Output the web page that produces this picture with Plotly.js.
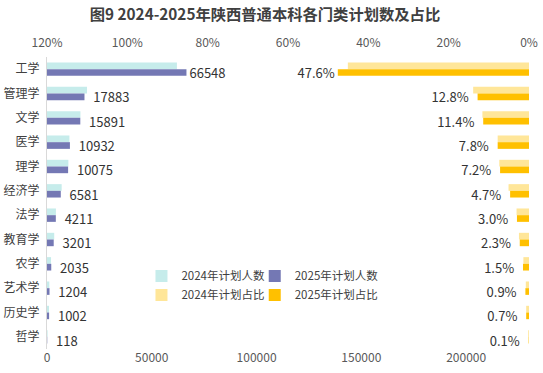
<!DOCTYPE html>
<html><head><meta charset="utf-8">
<script src="https://cdn.plot.ly/plotly-3.0.1.min.js"></script>
<style>body{margin:0;background:#fff}#c{width:543px;height:373px}</style>
</head><body><div id="c"></div>
<script>
const categories = ['工学','管理学','文学','医学','理学','经济学','法学','教育学','农学','艺术学','历史学','哲学'];
const count2024 = [62000,19100,15950,10700,10200,7000,4260,3440,1930,1100,960,275];
const count2025 = [66548,17883,15891,10932,10075,6581,4211,3201,2035,1204,1002,118];
const share2024 = [0.451,0.139,0.116,0.078,0.074,0.051,0.031,0.025,0.014,0.008,0.007,0.002];
const share2025 = [0.476,0.128,0.114,0.078,0.072,0.047,0.030,0.023,0.015,0.009,0.007,0.001];

const F = '"Noto Sans CJK SC", "Noto Sans", sans-serif';
const pad = '\u00a0\u00a0';
const countText = count2025.map((v, i) => (i === 0 ? '' : pad) + String(v));
const shareText = share2025.map((v, i) => (v * 100).toFixed(1) + '%' + (i === 0 ? '' : pad));
const traces = [
  {type:'bar', orientation:'h', name:'2024年计划人数', y:categories, x:count2024,
   marker:{color:'#C6ECEB'}, xaxis:'x', yaxis:'y', legend:'legend'},
  {type:'bar', orientation:'h', name:'2025年计划人数', y:categories, x:count2025,
   marker:{color:'#7478B4'}, xaxis:'x', yaxis:'y', legend:'legend2',
   text:countText, textposition:'outside', cliponaxis:false, constraintext:'none',
   textfont:{size:13, color:'#333333', family:F}},
  {type:'bar', orientation:'h', name:'2024年计划占比', y:categories, x:share2024,
   marker:{color:'#FFE699'}, xaxis:'x2', yaxis:'y', legend:'legend'},
  {type:'bar', orientation:'h', name:'2025年计划占比', y:categories, x:share2025,
   marker:{color:'#FFC000'}, xaxis:'x2', yaxis:'y', legend:'legend2',
   text:shareText, textposition:'outside', cliponaxis:false, constraintext:'none',
   textfont:{size:13, color:'#333333', family:F}}
];
const layout = {
  width:543, height:373,
  margin:{l:47, r:14, t:57, b:24},
  paper_bgcolor:'#fff', plot_bgcolor:'rgba(0,0,0,0)',
  font:{family:F, size:12, color:'#595959'},
  title:{text:'<b>图9 2024-2025年陕西普通本科各门类计划数及占比</b>', x:0.488, xanchor:'center', y:0.975, yanchor:'top',
         font:{size:15.3, color:'#404040', family:F}},
  barmode:'group', bargap:0.45, bargroupgap:0,
  xaxis:{range:[0,230000], tickvals:[0,50000,100000,150000,200000], tickformat:'d',
         showgrid:false, zeroline:false, showline:false, ticks:'', tickfont:{size:12,color:'#595959'}},
  xaxis2:{overlaying:'x', side:'top', range:[1.2,0], tickvals:[0,0.2,0.4,0.6,0.8,1.0,1.2], tickformat:'.0%',
          showgrid:false, zeroline:false, showline:false, ticks:'', ticklabelstandoff:7, tickfont:{size:12,color:'#595959'}},
  yaxis:{type:'category', categoryorder:'array', categoryarray:categories, autorange:'reversed',
         showline:true, linecolor:'#D9D9D9', linewidth:1, showgrid:false, ticks:'', ticklabelstandoff:4,
         tickfont:{size:12,color:'#404040'}},
  showlegend:true,
  legend:{x:0.196, y:0.30, xanchor:'left', yanchor:'top', orientation:'v', bgcolor:'rgba(0,0,0,0)',
          font:{size:11.5,color:'#404040'}, tracegroupgap:0, itemwidth:30},
  legend2:{x:0.431, y:0.30, xanchor:'left', yanchor:'top', orientation:'v', bgcolor:'rgba(0,0,0,0)',
          font:{size:11.5,color:'#404040'}, tracegroupgap:0, itemwidth:30}
};
Plotly.newPlot('c', traces, layout, {displayModeBar:false, staticPlot:true});
</script></body></html>
